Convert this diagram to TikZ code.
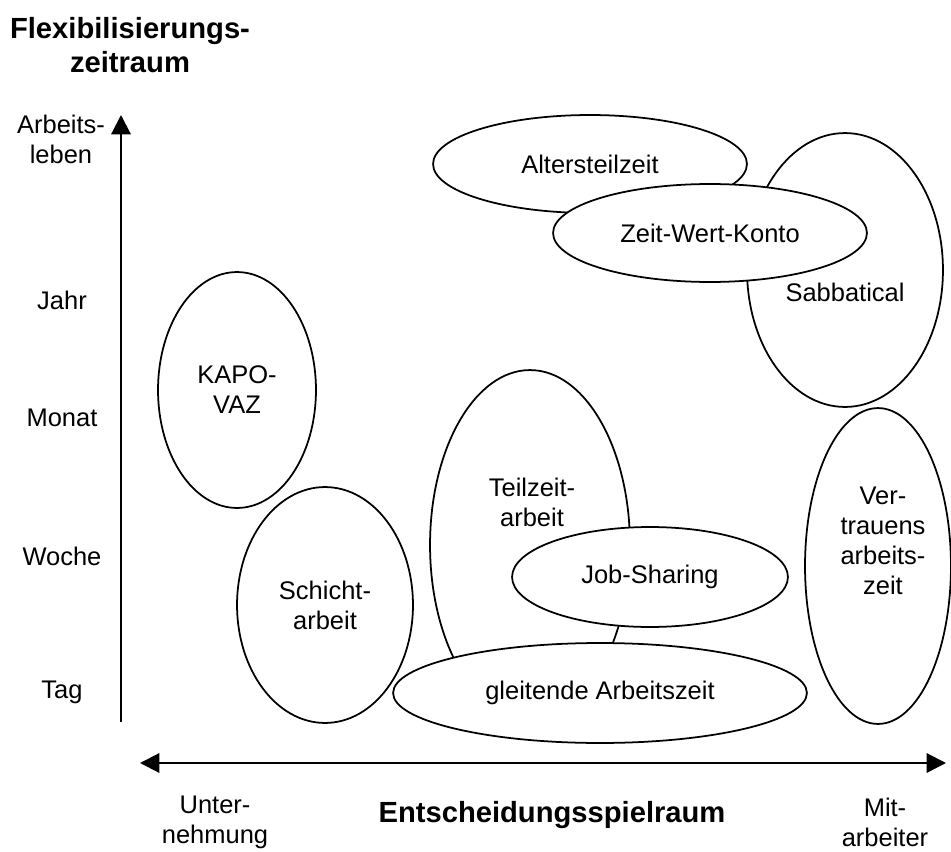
\documentclass[tikz,border=0pt]{standalone}
\usepackage{fontspec}
\setmainfont{Liberation Sans}
\usetikzlibrary{shapes.geometric,arrows.meta,calc,positioning}

\begin{document}
\begin{tikzpicture}[x=0.02cm,y=-0.02cm,>={Triangle[length=11pt,width=11pt]},
  every node/.style={font=\fontsize{14.5}{17}\selectfont,align=center,inner sep=0pt},
  feld/.style 2 args={ellipse,draw,fill=white,line width=1pt,minimum width=#1*0.04cm,minimum height=#2*0.04cm},
  achse/.style={line width=1.2pt},
  titel/.style={font=\bfseries\fontsize{16.6}{19.5}\selectfont}]
 \useasboundingbox (0,0) rectangle (951,852);

 % Achsen
 \coordinate (y0) at (121,722);
 \coordinate (y1) at (121,115);
 \coordinate (x0) at (140,763);
 \coordinate (x1) at (946,763);
 \draw[achse,->] (y0) -- (y1);
 \draw[achse,<->] (x0) -- (x1);

 \node[titel] (flex) at (130,45) {Flexibilisierungs-\\zeitraum};
 \node (leben) at (61,139) {Arbeits-\\leben};
 \node (jahr)  at (62,300) {Jahr};
 \node (monat) at (62,418) {Monat};
 \node (woche) at (62,556) {Woche};
 \node (tag)   at (62,692) {Tag};

 \node (unter) at (215,822) {Unter-\\nehmung};
 \node[titel] (spiel) at (552,815) {Entscheidungsspielraum};
 \node (mit) at (885,822) {Mit-\\arbeiter};

 % Felder
 \node[feld={157}{49}] (alt) at (590,164) {Altersteilzeit};
 \node[feld={98}{137}] (sab) at (845,270) {};
 \node[feld={157}{49}] (zwk) at (710,233) {Zeit-Wert-Konto};
 \node (sabtxt) at (845,292) {Sabbatical};

 \node[feld={79}{118}] (kapo) at (237,390) {KAPO-\\VAZ};

 \node[feld={100}{175}] (teil) at (530,545) {};
 \node (teiltxt) at (532,502) {Teilzeit-\\arbeit};
 \node[feld={138}{50}] (job) at (650,577) {Job-Sharing};
 \node[feld={207}{50}] (gleit) at (600,693) {gleitende Arbeitszeit};

 \node[feld={88}{118}] (schicht) at (325,605) {Schicht-\\arbeit};

 \node[feld={73}{158}] (vert) at (878,566) {};
 \node (verttxt) at (883,541) {Ver-\\trauens\\arbeits-\\zeit};
\end{tikzpicture}
\end{document}
